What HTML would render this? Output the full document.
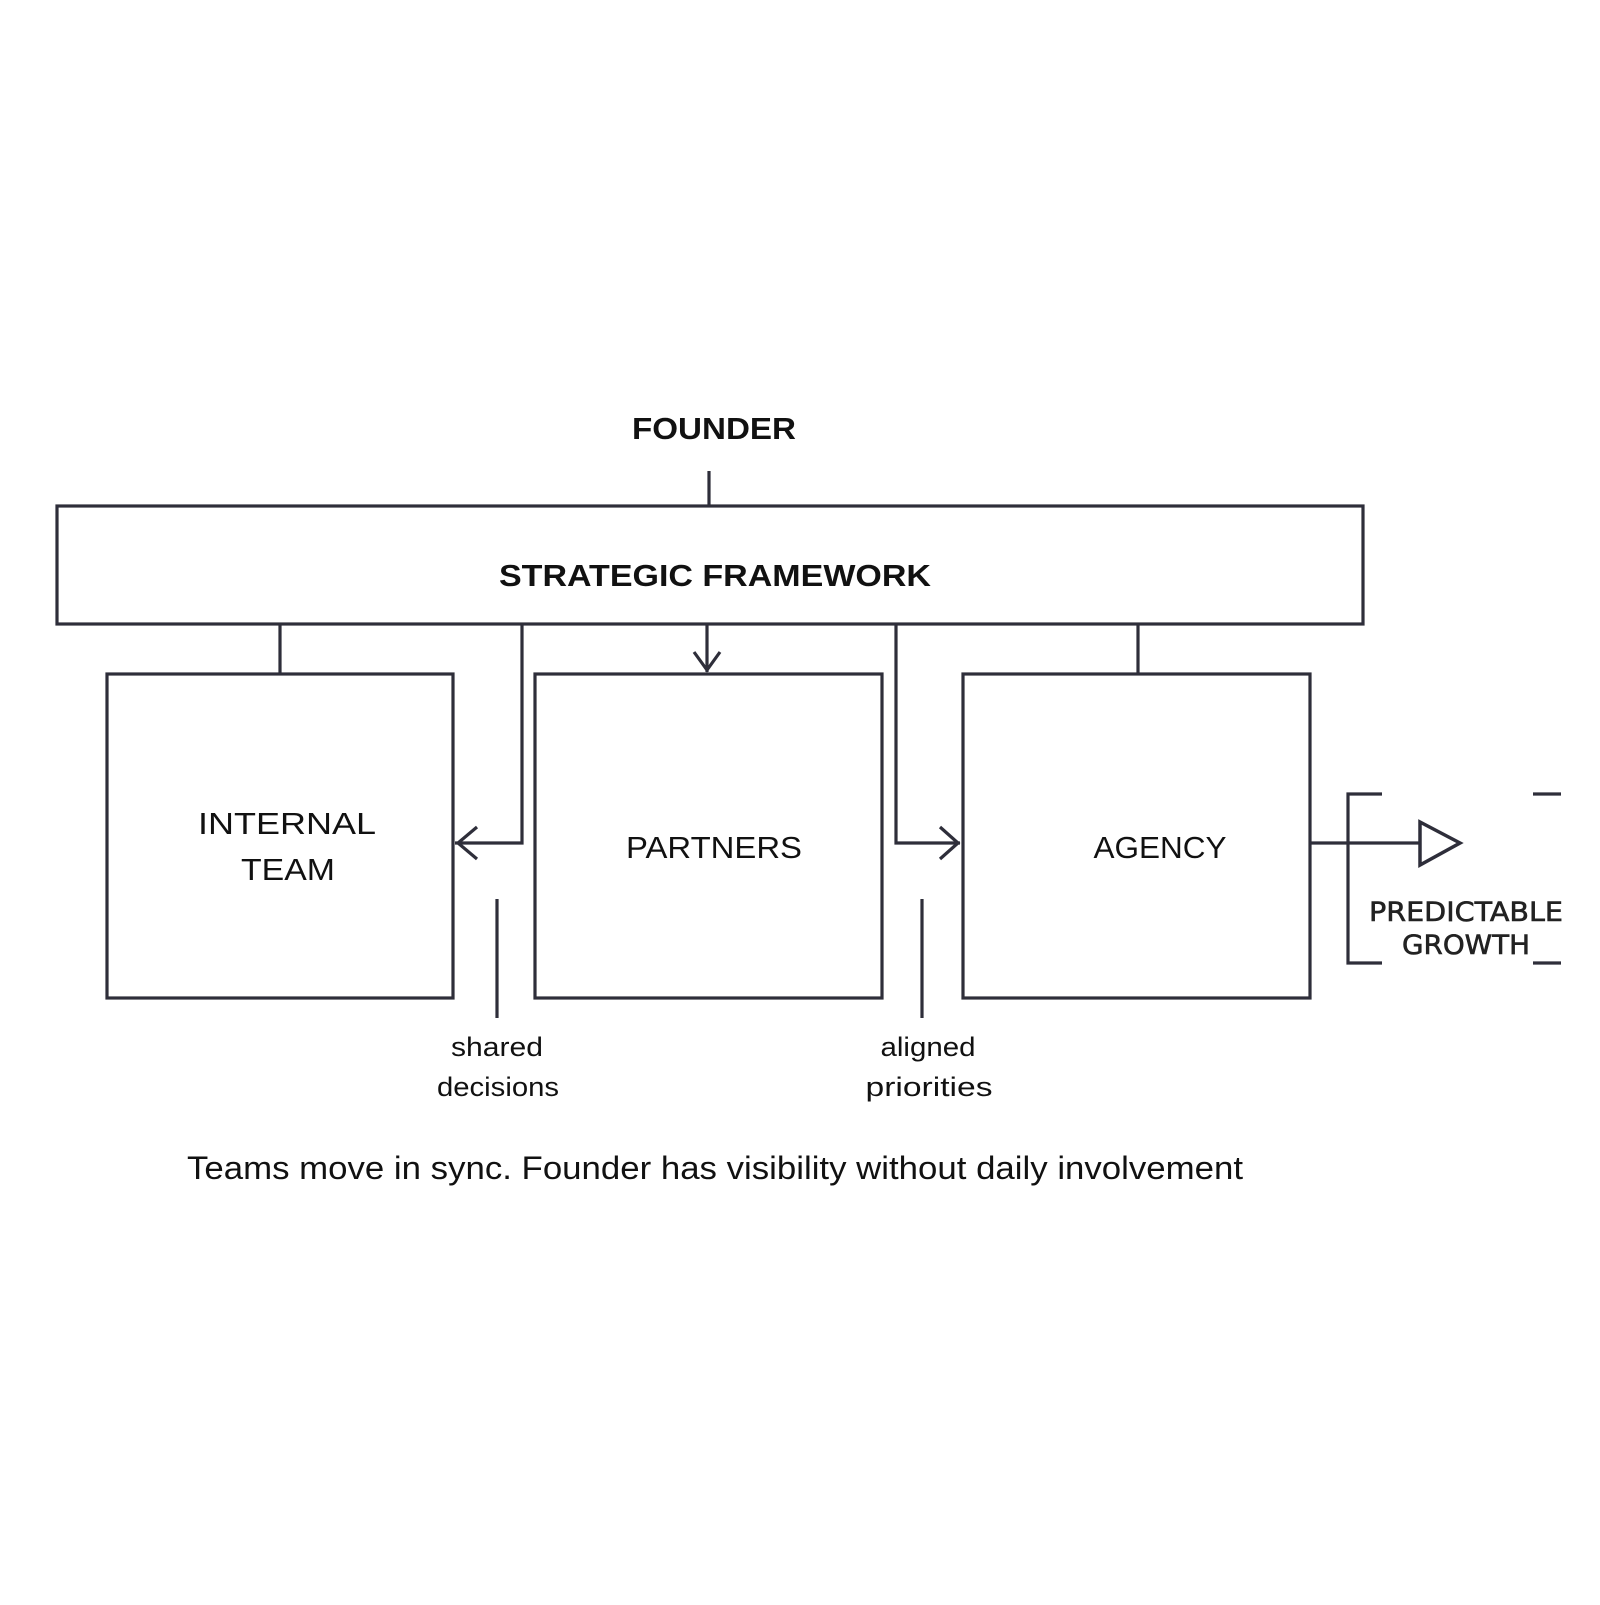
<!DOCTYPE html>
<html><head><meta charset="utf-8"><style>
html,body{margin:0;padding:0;background:#fff;}
</style></head><body>
<svg width="1600" height="1600" viewBox="0 0 1600 1600" xmlns="http://www.w3.org/2000/svg">
<g fill="none" stroke="#2e2e3a" stroke-width="3.2" stroke-linejoin="miter">
<line x1="709" y1="471" x2="709" y2="506"/>
<rect x="57" y="506" width="1306" height="118"/>
<rect x="107" y="674" width="346" height="324"/>
<rect x="535" y="674" width="347" height="324"/>
<rect x="963" y="674" width="347" height="324"/>
<line x1="280" y1="624" x2="280" y2="674"/>
<polyline points="522,624 522,843 455,843"/>
<polyline points="477,827 458,843 477,859"/>
<line x1="707" y1="624" x2="707" y2="672"/>
<polyline points="694,652 707,670 720,652"/>
<polyline points="896,624 896,843 960,843"/>
<polyline points="940,827 958,843 940,859"/>
<line x1="1138" y1="624" x2="1138" y2="674"/>
<line x1="497" y1="899" x2="497" y2="1018"/>
<line x1="922" y1="899" x2="922" y2="1018"/>
<line x1="1310" y1="843" x2="1420" y2="843"/>
<polygon points="1420,822 1460,843 1420,865" stroke-width="3.5"/>
<polyline points="1382,794 1348,794 1348,963 1382,963"/>
<line x1="1533" y1="794" x2="1561" y2="794"/>
<line x1="1533" y1="963" x2="1561" y2="963"/>
</g>
<g font-family="'Liberation Sans', sans-serif" fill="#111" text-anchor="middle">
<text x="714" y="439" font-size="31" font-weight="bold" textLength="164" lengthAdjust="spacingAndGlyphs">FOUNDER</text>
<text x="715" y="586" font-size="31" font-weight="bold" textLength="432" lengthAdjust="spacingAndGlyphs">STRATEGIC FRAMEWORK</text>
<text x="287" y="834" font-size="31" textLength="178" lengthAdjust="spacingAndGlyphs">INTERNAL</text>
<text x="288" y="880" font-size="31" textLength="94" lengthAdjust="spacingAndGlyphs">TEAM</text>
<text x="714" y="858" font-size="31" textLength="176" lengthAdjust="spacingAndGlyphs">PARTNERS</text>
<text x="1160" y="858" font-size="31" textLength="133" lengthAdjust="spacingAndGlyphs">AGENCY</text>
<text x="497" y="1056" font-size="27" textLength="92" lengthAdjust="spacingAndGlyphs">shared</text>
<text x="498" y="1096" font-size="27" textLength="122" lengthAdjust="spacingAndGlyphs">decisions</text>
<text x="928" y="1056" font-size="27" textLength="95" lengthAdjust="spacingAndGlyphs">aligned</text>
<text x="929" y="1096" font-size="27" textLength="127" lengthAdjust="spacingAndGlyphs">priorities</text>
<text x="715" y="1179" font-size="32" textLength="1056" lengthAdjust="spacingAndGlyphs">Teams move in sync. Founder has visibility without daily involvement</text>
</g>
<g font-family="'DejaVu Sans', sans-serif" fill="#222" stroke="#222" stroke-width="0.6" text-anchor="middle" font-size="27">
<text x="1466" y="921" textLength="194" lengthAdjust="spacingAndGlyphs">PREDICTABLE</text>
<text x="1466" y="954" textLength="128" lengthAdjust="spacingAndGlyphs">GROWTH</text>
</g>
</svg>
</body></html>
